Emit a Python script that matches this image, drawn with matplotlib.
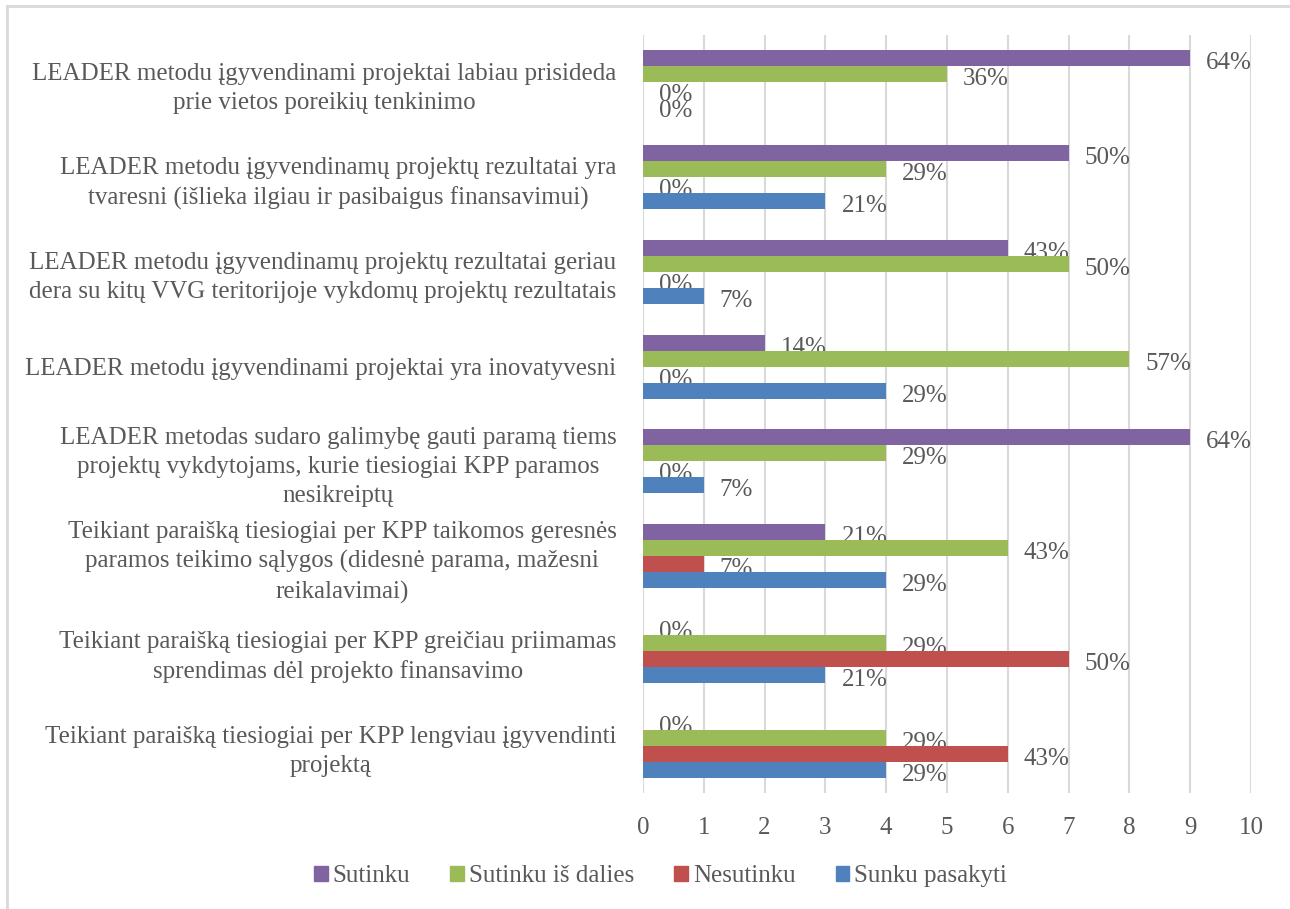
import matplotlib.pyplot as plt
from matplotlib.patches import Patch
from matplotlib.lines import Line2D
import numpy as np

plt.rcParams['font.family'] = ['Liberation Serif', 'DejaVu Serif']

categories = [
    "LEADER metodu įgyvendinami projektai labiau prisideda\nprie vietos poreikių tenkinimo",
    "LEADER metodu įgyvendinamų projektų rezultatai yra\ntvaresni (išlieka ilgiau ir pasibaigus finansavimui)",
    "LEADER metodu įgyvendinamų projektų rezultatai geriau\ndera su kitų VVG teritorijoje vykdomų projektų rezultatais",
    "LEADER metodu įgyvendinami projektai yra inovatyvesni",
    "LEADER metodas sudaro galimybę gauti paramą tiems\nprojektų vykdytojams, kurie tiesiogiai KPP paramos\nnesikreiptų",
    "Teikiant paraišką tiesiogiai per KPP taikomos geresnės\nparamos teikimo sąlygos (didesnė parama, mažesni\nreikalavimai)",
    "Teikiant paraišką tiesiogiai per KPP greičiau priimamas\nsprendimas dėl projekto finansavimo",
    "Teikiant paraišką tiesiogiai per KPP lengviau įgyvendinti\nprojektą",
]

series_names = ["Sutinku", "Sutinku iš dalies", "Nesutinku", "Sunku pasakyti"]
colors = ["#8064A2", "#9BBB59", "#C0504D", "#4F81BD"]

sutinku = [9, 7, 6, 2, 9, 3, 0, 0]
is_dalies = [5, 4, 7, 8, 4, 6, 4, 4]
nesutinku = [0, 0, 0, 0, 0, 1, 7, 6]
sunku = [0, 3, 1, 4, 1, 4, 3, 4]

sutinku_pct = ["64%", "50%", "43%", "14%", "64%", "21%", "0%", "0%"]
is_dalies_pct = ["36%", "29%", "50%", "57%", "29%", "43%", "29%", "29%"]
nesutinku_pct = ["0%", "0%", "0%", "0%", "0%", "7%", "50%", "43%"]
sunku_pct = ["0%", "21%", "7%", "29%", "7%", "29%", "21%", "29%"]

values = [sutinku, is_dalies, nesutinku, sunku]
labels = [sutinku_pct, is_dalies_pct, nesutinku_pct, sunku_pct]

text_color = "#595959"
grid_color = "#d9d9d9"
fs = 18

fig = plt.figure(figsize=(12.9, 9.09), dpi=100)
ax = fig.add_axes([643 / 1290, 1 - 793 / 909, (1251 - 643) / 1290, (793 - 35) / 909])

y = np.arange(len(categories))
h = 0.169
for i, (vals, labs, col, name) in enumerate(zip(values, labels, colors, series_names)):
    pos = y + (i - 1.5) * h
    ax.barh(pos, vals, height=h, color=col, zorder=3, label=name)
    for p, v, lab in zip(pos, vals, labs):
        ax.annotate(lab, (v, p), xytext=(16, -5), textcoords="offset pixels",
                    ha="left", va="center", fontsize=fs, color=text_color, zorder=2)

ax.set_xlim(0, 10)
ax.set_xticks(range(0, 11))
ax.set_ylim(len(categories) - 0.5, -0.5)
ax.set_yticks(y)
ax.set_yticklabels(categories, multialignment="center", linespacing=1.4)
ax.tick_params(axis="y", length=0, pad=19, labelsize=fs, labelcolor=text_color)
ax.tick_params(axis="x", length=0, pad=17, labelsize=fs, labelcolor=text_color)
ax.grid(axis="x", color=grid_color, linewidth=1.5, zorder=0)
for s in ax.spines.values():
    s.set_visible(False)
ax.axvline(0, color=grid_color, linewidth=1.5, zorder=1)

handles = [Patch(color=c) for c in colors]
fig.legend(handles, series_names, loc="center", bbox_to_anchor=(0.512, 1 - 876 / 909),
           ncol=4, frameon=False, fontsize=fs, labelcolor=text_color,
           handlelength=0.55, handleheight=0.55, handletextpad=0.2, columnspacing=1.6)

# light frame around the chart
fig.add_artist(Line2D([7 / 1290, 1], [1 - 6 / 909, 1 - 6 / 909], color=grid_color, linewidth=2))
fig.add_artist(Line2D([7 / 1290, 7 / 1290], [0, 1 - 6 / 909], color=grid_color, linewidth=2))

fig.savefig("out.png", dpi=100)
